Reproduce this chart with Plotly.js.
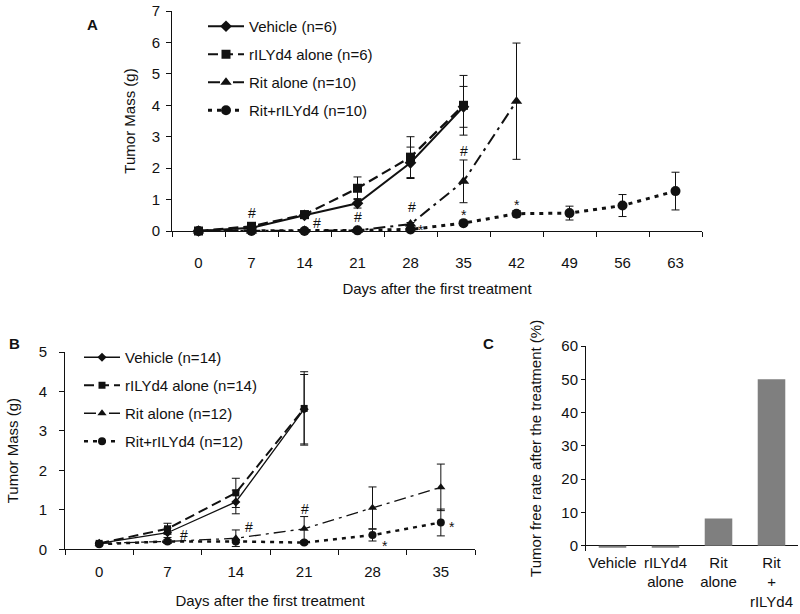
<!DOCTYPE html>
<html>
<head>
<meta charset="utf-8">
<script src="https://cdn.plot.ly/plotly-3.0.1.min.js"></script>
<style>
  html, body { margin: 0; padding: 0; background: #fff; }
  #chart { width: 800px; height: 614px; }
</style>
</head>
<body>
<div id="chart"></div>
<script>
// Panel A: tumour mass, first experiment
const daysA = [0, 7, 14, 21, 28, 35, 42, 49, 56, 63];
const vehicleA = [0, 0.1, 0.5, 0.88, 2.17, 3.95];
const vehicleAErr = [0, 0.05, 0.1, 0.15, 0.5, 0.65];
const rilyA = [0, 0.15, 0.52, 1.36, 2.35, 4.0];
const rilyAErr = [0, 0.05, 0.12, 0.36, 0.65, 0.95];
const ritA = [0, 0, 0.02, 0.02, 0.22, 1.58, 4.13];
const ritAErr = [0, 0, 0, 0, 0.05, 0.68, 1.85];
const comboA = [0, 0, 0, 0.02, 0.05, 0.25, 0.55, 0.57, 0.81, 1.27];
const comboAErr = [0, 0, 0, 0, 0.03, 0.05, 0.1, 0.22, 0.35, 0.6];
const namesA = ['Vehicle (n=6)', 'rILYd4 alone (n=6)', 'Rit alone (n=10)', 'Rit+rILYd4 (n=10)'];
const marksAText = ['#', '#', '#', '#', '#', '*', '*', '*'];
const marksAX = [7, 15.6, 21, 28.2, 35, 29.4, 35, 42];
const marksAY = [0.56, 0.27, 0.46, 0.75, 2.55, 0.02, 0.52, 0.84];

// Panel B: tumour mass, second experiment
const daysB = [0, 7, 14, 21, 28, 35];
const vehicleB = [0.15, 0.42, 1.2, 3.55];
const vehicleBErr = [0.03, 0.12, 0.3, 0.88];
const rilyB = [0.15, 0.52, 1.43, 3.57];
const rilyBErr = [0.03, 0.14, 0.37, 0.93];
const ritB = [0.15, 0.2, 0.28, 0.52, 1.05, 1.57];
const ritBErr = [0.02, 0.05, 0.21, 0.31, 0.53, 0.59];
const comboB = [0.13, 0.2, 0.2, 0.17, 0.36, 0.68];
const comboBErr = [0.02, 0.03, 0.03, 0.04, 0.15, 0.34];
const namesB = ['Vehicle (n=14)', 'rILYd4 alone (n=14)', 'Rit alone (n=12)', 'Rit+rILYd4 (n=12)'];
const marksBText = ['#', '#', '#', '*', '*'];
const marksBX = [8.74, 15.3, 21.1, 29.3, 36.1];
const marksBY = [0.36, 0.57, 1.01, 0.09, 0.56];

// Panel C: tumour free rate
const groupsC = ['Vehicle', 'rILYd4<br>alone', 'Rit<br>alone', 'Rit<br>+<br>rILYd4'];
const freeRateC = [-0.6, -0.6, 8.2, 50];

const FONT = 'Arial, "Liberation Sans", sans-serif';
const INK = '#111';

const styles = [
  { symbol: 'diamond', dash: 'solid' },
  { symbol: 'square', dash: '10px,5px' },
  { symbol: 'triangle-up', dash: '12px,5px,3px,5px' },
  { symbol: 'circle', dash: '4px,5px' },
];

function seriesTrace(x, y, err, name, idx, panel) {
  const big = panel === 'A';
  const st = styles[idx];
  const widths = big ? [2, 2.2, 2, 3] : [1.3, 2, 1.3, 2.5];
  const sizes = big ? [9, 9, 10, 10] : [7, 7, 8, 8];
  return {
    type: 'scatter',
    mode: 'lines+markers',
    x, y, name,
    xaxis: big ? 'x' : 'x2',
    yaxis: big ? 'y' : 'y2',
    legend: big ? 'legend' : 'legend2',
    legendgroup: panel + idx,
    line: { color: INK, width: widths[idx], dash: st.dash },
    marker: { symbol: st.symbol, size: sizes[idx], color: INK },
    error_y: { type: 'data', array: err, visible: true, color: INK, thickness: 1, width: 4 },
    cliponaxis: false,
  };
}

const traces = [
  seriesTrace(daysA.slice(0, vehicleA.length), vehicleA, vehicleAErr, namesA[0], 0, 'A'),
  seriesTrace(daysA.slice(0, rilyA.length), rilyA, rilyAErr, namesA[1], 1, 'A'),
  seriesTrace(daysA.slice(0, ritA.length), ritA, ritAErr, namesA[2], 2, 'A'),
  seriesTrace(daysA, comboA, comboAErr, namesA[3], 3, 'A'),
  seriesTrace(daysB.slice(0, vehicleB.length), vehicleB, vehicleBErr, namesB[0], 0, 'B'),
  seriesTrace(daysB.slice(0, rilyB.length), rilyB, rilyBErr, namesB[1], 1, 'B'),
  seriesTrace(daysB, ritB, ritBErr, namesB[2], 2, 'B'),
  seriesTrace(daysB, comboB, comboBErr, namesB[3], 3, 'B'),
  {
    type: 'bar',
    x: groupsC,
    y: freeRateC,
    xaxis: 'x3',
    yaxis: 'y3',
    marker: { color: '#7f7f7f' },
    showlegend: false,
  },
];

const px = (v) => v / 800;
const py = (v) => 1 - v / 614;

function dayAxis(domain, range, anchor, labelGap, titleGap) {
  return {
    domain, range, anchor,
    tickmode: 'linear', tick0: 0, dtick: 7,
    ticks: '', showgrid: false, zeroline: false,
    showline: true, linecolor: INK, linewidth: 1,
    ticklabelstandoff: labelGap,
    tickfont: { size: 15 },
    minor: { tickmode: 'linear', tick0: -3.5, dtick: 7, ticks: 'outside', ticklen: 5, tickcolor: INK, showgrid: false },
    title: { text: 'Days after the first treatment', font: { size: 15 }, standoff: titleGap },
  };
}

function massAxis(domain, range, anchor, labelGap, titleGap) {
  return {
    domain, range, anchor,
    dtick: 1, ticks: 'outside', ticklen: 5, tickcolor: INK,
    showgrid: false, zeroline: false,
    showline: true, linecolor: INK, linewidth: 1,
    ticklabelstandoff: labelGap,
    tickfont: { size: 15 },
    title: { text: 'Tumor Mass (g)', font: { size: 15 }, standoff: titleGap },
  };
}

const annotations = [];
marksAText.forEach((t, i) => annotations.push({ xref: 'x', yref: 'y', x: marksAX[i], y: marksAY[i], text: t, showarrow: false, font: { size: 14, color: INK } }));
marksBText.forEach((t, i) => annotations.push({ xref: 'x2', yref: 'y2', x: marksBX[i], y: marksBY[i], text: t, showarrow: false, font: { size: 14, color: INK } }));
[['A', 85, 14], ['B', 7, 343], ['C', 489, 343]].forEach(([t, x, y]) => annotations.push({
  xref: 'paper', yref: 'paper', x: px(x), y: py(y), text: '<b>' + t + '</b>', showarrow: false, font: { size: 15, color: INK },
}));

const legendBase = {
  xanchor: 'left', yanchor: 'top', bgcolor: 'rgba(0,0,0,0)', borderwidth: 0,
  traceorder: 'grouped', tracegroupgap: 5.5, itemwidth: 36, font: { size: 15 },
};

const layout = {
  width: 800,
  height: 614,
  margin: { l: 0, r: 0, t: 0, b: 0 },
  paper_bgcolor: '#fff',
  plot_bgcolor: 'rgba(0,0,0,0)',
  font: { family: FONT, size: 15, color: INK },
  showlegend: true,
  legend: { ...legendBase, x: px(203), y: py(10) },
  legend2: { ...legendBase, x: px(79), y: py(341) },
  xaxis: dayAxis([px(172), px(702)], [-3.5, 66.5], 'y', 18, 13),
  yaxis: massAxis([py(231), py(11)], [0, 7], 'x', 3, 12),
  xaxis2: dayAxis([px(65), px(475)], [-3.5, 38.5], 'y2', 9, 16),
  yaxis2: massAxis([py(549.3), py(352)], [0, 5], 'x2', 9, 16),
  xaxis3: {
    domain: [px(586), px(798)], anchor: 'y3', ticks: '', showline: false, showgrid: false,
    ticklabelstandoff: 1, tickfont: { size: 15 },
  },
  yaxis3: {
    domain: [py(550.7), py(346)], anchor: 'x3', range: [-1.5, 60], dtick: 10,
    ticks: 'outside', ticklen: 4, tickcolor: INK, showgrid: false,
    showline: true, linecolor: INK, linewidth: 1,
    zeroline: true, zerolinecolor: INK, zerolinewidth: 1,
    tickfont: { size: 15 },
    title: { text: 'Tumor free rate after the treatment (%)', font: { size: 15 }, standoff: 16 },
  },
  bargap: 0.48,
  annotations,
};

Plotly.newPlot('chart', traces, layout, { displayModeBar: false, staticPlot: true });
</script>
</body>
</html>
